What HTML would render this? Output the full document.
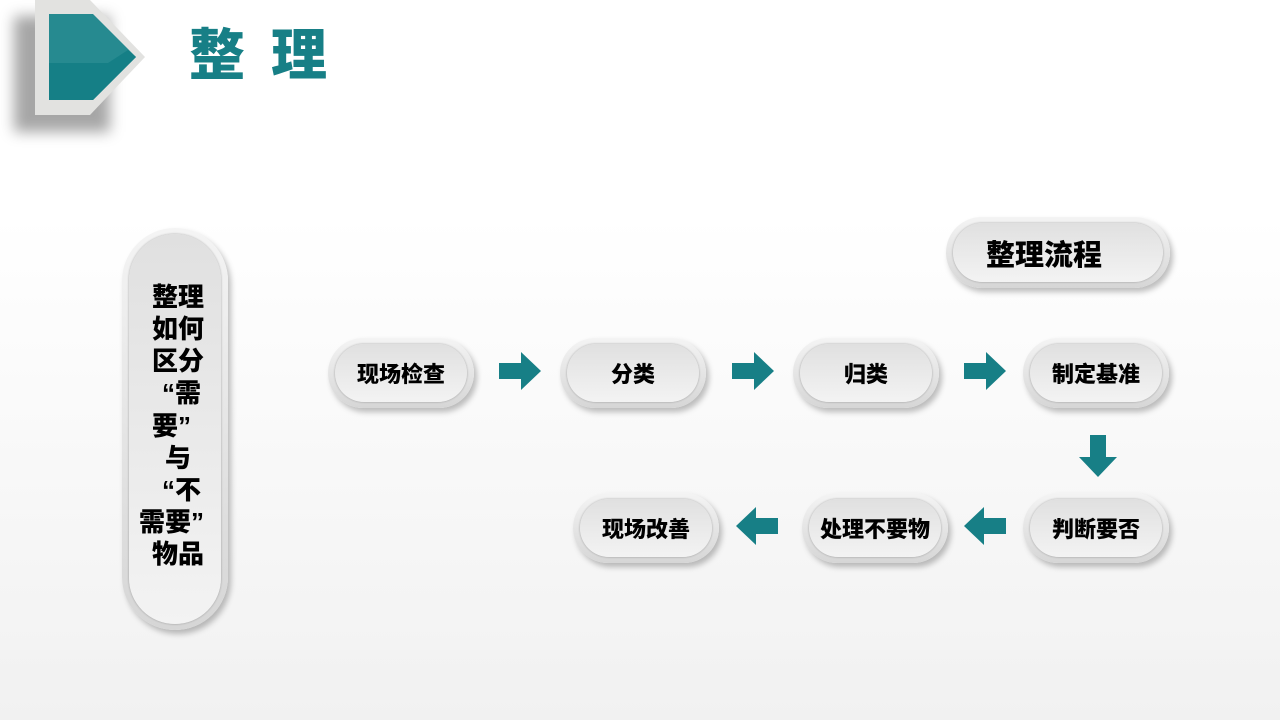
<!DOCTYPE html>
<html><head><meta charset="utf-8"><style>
body{margin:0;width:1280px;height:720px;overflow:hidden;background:linear-gradient(#fff 0%,#fff 30%,#f1f1f1 100%);position:relative;font-family:"Liberation Sans","Noto Sans CJK SC",sans-serif;}
.pill{position:absolute;border-radius:40px;background:linear-gradient(#f4f4f4,#d6d6d6);box-shadow:3px 4px 6px rgba(0,0,0,0.25);}
.pill .in{position:absolute;left:7px;top:6px;right:7px;bottom:6px;border-radius:34px;background:linear-gradient(#e0e0e0,#f3f3f3);box-shadow:0 0 2px rgba(0,0,0,0.3);display:flex;align-items:center;justify-content:center;font-weight:900;font-size:22px;color:#000;}
.t{position:absolute;font-weight:900;font-size:26px;line-height:26px;color:#000;white-space:nowrap}
svg{position:absolute}
</style></head><body>
<div style="position:absolute;left:14px;top:16px;width:96px;height:116px;background:rgba(0,0,0,0.35);filter:blur(7px)"></div>
<svg style="left:0;top:0" width="160" height="130"><polygon points="35,0 90,0 145,57 90,115 35,115" fill="#e2e2e0"/><polygon points="49,14 93,14 136,57 93,100 49,100" fill="#268a90"/><polygon points="49,63 108,63 128,50 136,57 93,100 49,100" fill="#157f86"/></svg>
<div style="position:absolute;left:189px;top:26px;font-size:56px;font-weight:900;color:#177f86;letter-spacing:26px;line-height:60px">整理</div>

<div class="pill" style="left:122px;top:228px;width:106px;height:402px;border-radius:53px"><div class="in" style="border-radius:46px"></div></div>
<div class="t" style="left:152px;top:284px">整理</div>
<div class="t" style="left:152px;top:316px">如何</div>
<div class="t" style="left:152px;top:348px">区分</div>
<div class="t" style="left:162px;top:380px">“需</div>
<div class="t" style="left:152px;top:413px">要”</div>
<div class="t" style="left:165px;top:445px">与</div>
<div class="t" style="left:162px;top:477px">“不</div>
<div class="t" style="left:139px;top:509px">需要”</div>
<div class="t" style="left:152px;top:541px">物品</div>

<div class="pill" style="left:946px;top:217px;width:224px;height:71px"><div class="in" style="font-size:29px;justify-content:flex-start;padding-left:33px">整理流程</div></div>

<div class="pill" style="left:328px;top:338px;width:146px;height:70px"><div class="in">现场检查</div></div>
<div class="pill" style="left:560px;top:338px;width:146px;height:70px"><div class="in">分类</div></div>
<div class="pill" style="left:793px;top:338px;width:146px;height:70px"><div class="in">归类</div></div>
<div class="pill" style="left:1023px;top:338px;width:146px;height:70px"><div class="in">制定基准</div></div>
<div class="pill" style="left:1023px;top:493px;width:146px;height:70px"><div class="in">判断要否</div></div>
<div class="pill" style="left:802px;top:493px;width:146px;height:70px"><div class="in">处理不要物</div></div>
<div class="pill" style="left:573px;top:493px;width:146px;height:70px"><div class="in">现场改善</div></div>

<svg style="left:499px;top:352px" width="42" height="38"><polygon points="0,11 22,11 22,0 42,19 22,38 22,27 0,27" fill="#177f86"/></svg>
<svg style="left:732px;top:352px" width="42" height="38"><polygon points="0,11 22,11 22,0 42,19 22,38 22,27 0,27" fill="#177f86"/></svg>
<svg style="left:964px;top:352px" width="42" height="38"><polygon points="0,11 22,11 22,0 42,19 22,38 22,27 0,27" fill="#177f86"/></svg>
<svg style="left:1079px;top:435px" width="38" height="42"><polygon points="11,0 27,0 27,22 38,22 19,42 0,22 11,22" fill="#177f86"/></svg>
<svg style="left:964px;top:507px" width="42" height="38"><polygon points="42,11 20,11 20,0 0,19 20,38 20,27 42,27" fill="#177f86"/></svg>
<svg style="left:736px;top:507px" width="42" height="38"><polygon points="42,11 20,11 20,0 0,19 20,38 20,27 42,27" fill="#177f86"/></svg>
</body></html>
